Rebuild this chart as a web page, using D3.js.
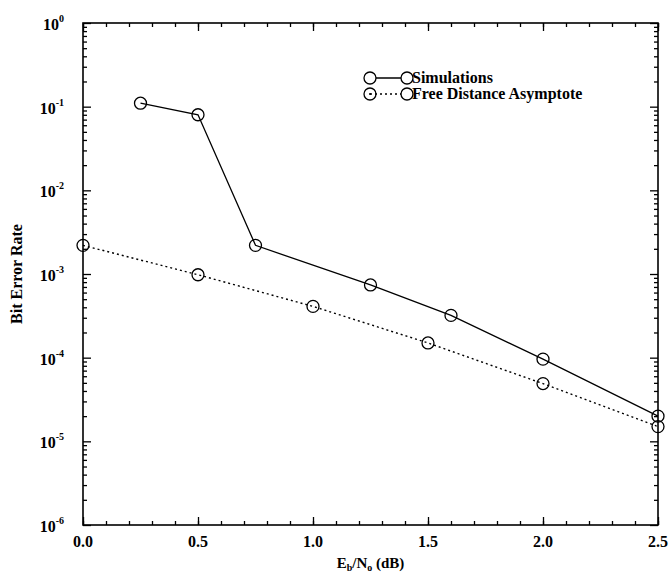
<!DOCTYPE html>
<html>
<head>
<meta charset="utf-8">
<script src="https://cdn.jsdelivr.net/npm/d3@7"></script>
<style>
  html, body { margin: 0; padding: 0; background: #fff; }
  svg { display: block; }
  text { font-family: "Liberation Serif", "Times New Roman", serif; font-weight: bold; fill: #000; }
</style>
</head>
<body>
<svg id="chart" width="669" height="576"></svg>
<script>
// Data
const EBNO_SIM = [0.25, 0.5, 0.75, 1.25, 1.6, 2.0, 2.5];
const BER_SIM = [0.11, 0.08, 2.2e-3, 7.4e-4, 3.2e-4, 9.6e-5, 2.0e-5];
const EBNO_ASYM = [0.0, 0.5, 1.0, 1.5, 2.0, 2.5];
const BER_ASYM = [2.2e-3, 9.8e-4, 4.1e-4, 1.5e-4, 4.9e-5, 1.5e-5];

const X_TICKS = [0, 0.5, 1.0, 1.5, 2.0, 2.5];
const X_TICK_LABELS = ["0.0", "0.5", "1.0", "1.5", "2.0", "2.5"];
const X_MINOR = d3.range(0, 2.51, 0.1);
const Y_EXPONENTS = [0, -1, -2, -3, -4, -5, -6];
const LEGEND = ["Simulations", "Free Distance Asymptote"];

const W = 669, H = 576;
const LEFT = 83, RIGHT = 658, TOP = 23, BOTTOM = 525;
const MAJOR = 8, MINOR = 4;

const svg = d3.select("#chart");
const x = d3.scaleLinear().domain([0, 2.5]).range([LEFT, RIGHT]);
const y = d3.scaleLog().domain([1e-6, 1]).range([BOTTOM, TOP]);

const yMajor = Y_EXPONENTS.map(e => Math.pow(10, e));
const yMinor = [];
for (const e of Y_EXPONENTS.slice(1)) for (let m = 2; m <= 9; m++) yMinor.push(m * Math.pow(10, e));

// inward ticks on all four sides
const tickAxis = (gen, vals, size, tr) => {
  svg.append("g").attr("transform", tr)
    .call(gen.tickValues(vals).tickSize(-size).tickFormat(""))
    .call(ax => ax.select(".domain").remove())
    .call(ax => ax.selectAll(".tick line").attr("stroke", "#000").attr("stroke-width", 1.3));
};
tickAxis(d3.axisBottom(x), X_TICKS, MAJOR, `translate(0,${BOTTOM})`);
tickAxis(d3.axisBottom(x), X_MINOR, MINOR, `translate(0,${BOTTOM})`);
tickAxis(d3.axisTop(x), X_TICKS, MAJOR, `translate(0,${TOP})`);
tickAxis(d3.axisTop(x), X_MINOR, MINOR, `translate(0,${TOP})`);
tickAxis(d3.axisLeft(y), yMajor, MAJOR, `translate(${LEFT},0)`);
tickAxis(d3.axisLeft(y), yMinor, MINOR, `translate(${LEFT},0)`);
tickAxis(d3.axisRight(y), yMajor, MAJOR, `translate(${RIGHT},0)`);
tickAxis(d3.axisRight(y), yMinor, MINOR, `translate(${RIGHT},0)`);

// frame
svg.append("rect").attr("x", LEFT).attr("y", TOP)
  .attr("width", RIGHT - LEFT).attr("height", BOTTOM - TOP)
  .attr("fill", "none").attr("stroke", "#000").attr("stroke-width", 1.6);

// x tick labels
X_TICKS.forEach((v, i) => {
  svg.append("text").attr("x", x(v)).attr("y", BOTTOM + 22)
    .attr("text-anchor", "middle").attr("font-size", "16px").text(X_TICK_LABELS[i]);
});

// y tick labels 10^k
Y_EXPONENTS.forEach(e => {
  const t = svg.append("text").attr("x", 64).attr("y", y(Math.pow(10, e)) + 7)
    .attr("text-anchor", "end").attr("font-size", "16px");
  t.append("tspan").text("10");
  t.append("tspan").attr("dy", -8).attr("font-size", "10px").text(String(e));
});

// axis titles
svg.append("text").attr("transform", `translate(22,${(TOP + BOTTOM) / 2}) rotate(-90)`)
  .attr("text-anchor", "middle").attr("font-size", "16px").text("Bit Error Rate");

const xt = svg.append("text").attr("x", (LEFT + RIGHT) / 2).attr("y", 568)
  .attr("text-anchor", "middle").attr("font-size", "15px");
xt.append("tspan").text("E");
xt.append("tspan").attr("font-size", "10px").attr("dy", 3).text("b");
xt.append("tspan").attr("dy", -3).text("/N");
xt.append("tspan").attr("font-size", "10px").attr("dy", 3).text("o");
xt.append("tspan").attr("dy", -3).text(" (dB)");

// series
const line = d3.line().x(d => x(d[0])).y(d => y(d[1]));
const sim = EBNO_SIM.map((v, i) => [v, BER_SIM[i]]);
const asym = EBNO_ASYM.map((v, i) => [v, BER_ASYM[i]]);

svg.append("path").datum(asym).attr("d", line)
  .attr("fill", "none").attr("stroke", "#000").attr("stroke-width", 1.4).attr("stroke-dasharray", "2,3");
svg.append("path").datum(sim).attr("d", line)
  .attr("fill", "none").attr("stroke", "#000").attr("stroke-width", 1.3);

const marks = data => svg.append("g").selectAll("circle").data(data).join("circle")
  .attr("cx", d => x(d[0])).attr("cy", d => y(d[1])).attr("r", 6)
  .attr("fill", "none").attr("stroke", "#000").attr("stroke-width", 1.3);
marks(asym);
marks(sim);

// legend
const leg = svg.append("g").attr("transform", "translate(370,78)");
LEGEND.forEach((label, i) => {
  const gy = i * 16;
  leg.append("line").attr("x1", 0).attr("x2", 37).attr("y1", gy).attr("y2", gy)
    .attr("stroke", "#000").attr("stroke-width", 1.3)
    .attr("stroke-dasharray", i === 1 ? "2,3" : null);
  for (const cx of [0, 37]) {
    leg.append("circle").attr("cx", cx).attr("cy", gy).attr("r", 6)
      .attr("fill", i === 1 && cx === 0 ? "none" : "#fff").attr("stroke", "#000").attr("stroke-width", 1.3);
  }
  if (i === 1) leg.append("circle").attr("cx", 0).attr("cy", gy).attr("r", 1).attr("fill", "#000");
  leg.append("text").attr("x", 42).attr("y", gy + 5).attr("font-size", "16px").text(label);
});
</script>
</body>
</html>
